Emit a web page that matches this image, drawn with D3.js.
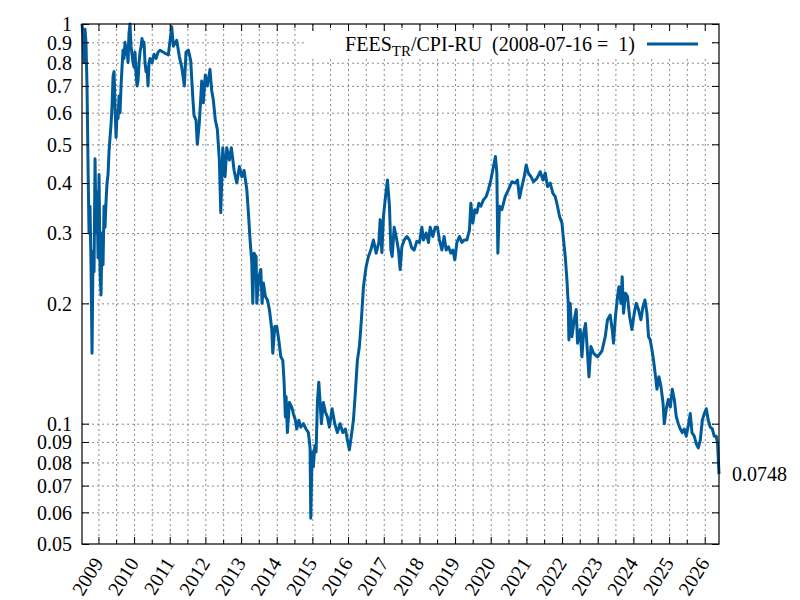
<!DOCTYPE html>
<html>
<head>
<meta charset="utf-8">
<script src="https://cdn.jsdelivr.net/npm/d3@7"></script>
<style>
  body { margin: 0; background: #fff; }
  .grid line { stroke: #8a8a8a; stroke-dasharray: 2,3; }
  .grid path { display: none; }
  .lbl { font-family: 'Liberation Serif', 'Times New Roman', serif; font-size: 20px; fill: #000; }
</style>
</head>
<body>
<div id="chart"></div>
<script>
// decimal years
var years = [
  2008.540, 2008.568, 2008.596, 2008.624, 2008.652, 2008.680, 2008.708, 2008.736, 2008.764, 2008.792,
  2008.821, 2008.849, 2008.877, 2008.905, 2008.933, 2008.961, 2008.989, 2009.017, 2009.045, 2009.073,
  2009.101, 2009.129, 2009.157, 2009.185, 2009.213, 2009.241, 2009.269, 2009.297, 2009.325, 2009.353,
  2009.381, 2009.410, 2009.438, 2009.466, 2009.494, 2009.522, 2009.550, 2009.578, 2009.606, 2009.634,
  2009.662, 2009.690, 2009.718, 2009.746, 2009.774, 2009.802, 2009.830, 2009.858, 2009.886, 2009.914,
  2009.942, 2009.971, 2009.999, 2010.027, 2010.055, 2010.083, 2010.111, 2010.139, 2010.167, 2010.195,
  2010.223, 2010.251, 2010.279, 2010.307, 2010.335, 2010.363, 2010.391, 2010.419, 2010.447, 2010.504,
  2010.560, 2010.616, 2010.672, 2010.728, 2010.868, 2010.961, 2011.056, 2011.101, 2011.196, 2011.269,
  2011.337, 2011.410, 2011.457, 2011.522, 2011.589, 2011.645, 2011.682, 2011.738, 2011.774, 2011.830,
  2011.898, 2011.943, 2011.999, 2012.055, 2012.130, 2012.178, 2012.223, 2012.279, 2012.335, 2012.391,
  2012.431, 2012.487, 2012.551, 2012.599, 2012.672, 2012.728, 2012.804, 2012.879, 2012.952, 2013.020,
  2013.084, 2013.160, 2013.205, 2013.252, 2013.300, 2013.328, 2013.365, 2013.421, 2013.440, 2013.496,
  2013.553, 2013.589, 2013.626, 2013.682, 2013.738, 2013.794, 2013.861, 2013.889, 2013.945, 2014.001,
  2014.057, 2014.114, 2014.170, 2014.206, 2014.243, 2014.262, 2014.299, 2014.355, 2014.422, 2014.467,
  2014.523, 2014.562, 2014.619, 2014.675, 2014.748, 2014.823, 2014.888, 2014.935, 2014.955, 2014.992,
  2015.028, 2015.068, 2015.104, 2015.140, 2015.180, 2015.216, 2015.252, 2015.308, 2015.365, 2015.421,
  2015.477, 2015.553, 2015.628, 2015.701, 2015.777, 2015.853, 2015.926, 2015.982, 2016.038, 2016.105,
  2016.150, 2016.198, 2016.262, 2016.318, 2016.374, 2016.431, 2016.506, 2016.571, 2016.638, 2016.711,
  2016.787, 2016.862, 2016.899, 2016.947, 2016.992, 2017.039, 2017.104, 2017.160, 2017.199, 2017.236,
  2017.292, 2017.348, 2017.412, 2017.460, 2017.508, 2017.572, 2017.648, 2017.721, 2017.788, 2017.853,
  2017.929, 2018.001, 2018.069, 2018.114, 2018.189, 2018.254, 2018.301, 2018.377, 2018.442, 2018.506,
  2018.562, 2018.630, 2018.694, 2018.750, 2018.815, 2018.882, 2018.938, 2018.994, 2019.051, 2019.123,
  2019.191, 2019.255, 2019.331, 2019.404, 2019.443, 2019.499, 2019.555, 2019.611, 2019.668, 2019.723,
  2019.796, 2019.872, 2019.936, 2020.004, 2020.060, 2020.133, 2020.172, 2020.200, 2020.245, 2020.313,
  2020.405, 2020.498, 2020.593, 2020.686, 2020.750, 2020.806, 2020.873, 2020.938, 2020.994, 2021.050,
  2021.126, 2021.199, 2021.294, 2021.387, 2021.463, 2021.527, 2021.592, 2021.667, 2021.743, 2021.808,
  2021.872, 2021.929, 2021.996, 2022.041, 2022.089, 2022.136, 2022.172, 2022.192, 2022.228, 2022.276,
  2022.341, 2022.397, 2022.433, 2022.509, 2022.557, 2022.602, 2022.658, 2022.714, 2022.754, 2022.810,
  2022.883, 2022.994, 2023.118, 2023.210, 2023.275, 2023.350, 2023.406, 2023.443, 2023.499, 2023.556,
  2023.595, 2023.651, 2023.687, 2023.724, 2023.780, 2023.836, 2023.892, 2023.959, 2024.024, 2024.080,
  2024.144, 2024.211, 2024.268, 2024.324, 2024.380, 2024.425, 2024.472, 2024.520, 2024.565, 2024.621,
  2024.660, 2024.716, 2024.772, 2024.829, 2024.865, 2024.921, 2024.977, 2025.034, 2025.090, 2025.146,
  2025.202, 2025.258, 2025.314, 2025.370, 2025.426, 2025.482, 2025.547, 2025.594, 2025.642, 2025.707,
  2025.763, 2025.819, 2025.875, 2025.931, 2025.987, 2026.043, 2026.099, 2026.155, 2026.212, 2026.268,
  2026.324, 2026.360, 2026.400
];

// FEES_TR / CPI-RU, 2008-07-16 = 1
var values = [
  1.0, 0.93, 0.8, 0.97, 0.9, 0.7, 0.45, 0.3, 0.35, 0.25,
  0.15, 0.27, 0.24, 0.46, 0.3, 0.38, 0.26, 0.42, 0.24, 0.21,
  0.3, 0.25, 0.35, 0.31, 0.36, 0.4, 0.42, 0.48, 0.52, 0.56,
  0.62, 0.74, 0.76, 0.62, 0.52, 0.6, 0.58, 0.66, 0.6, 0.7,
  0.78, 0.86, 0.82, 0.9, 0.84, 0.88, 0.8, 0.95, 1.0, 0.88,
  0.84, 0.8, 0.78, 0.85, 0.75, 0.7, 0.72, 0.8, 0.85, 0.88,
  0.92, 0.88, 0.9, 0.8, 0.76, 0.78, 0.7, 0.8, 0.82, 0.8,
  0.84, 0.82, 0.85, 0.86, 0.845, 0.837, 0.985, 0.88, 0.91, 0.83,
  0.78, 0.70, 0.85, 0.86, 0.81, 0.66, 0.59, 0.575, 0.50, 0.565,
  0.72, 0.635, 0.745, 0.70, 0.77, 0.68, 0.645, 0.575, 0.545, 0.457,
  0.337, 0.49, 0.415, 0.49, 0.457, 0.49, 0.43, 0.40, 0.44, 0.415,
  0.43, 0.385, 0.337, 0.288, 0.253, 0.20, 0.267, 0.262, 0.20, 0.233,
  0.243, 0.20, 0.225, 0.208, 0.204, 0.193, 0.172, 0.15, 0.175, 0.175,
  0.162, 0.147, 0.144, 0.127, 0.104, 0.117, 0.095, 0.113, 0.11, 0.106,
  0.102, 0.097, 0.102, 0.098, 0.1, 0.097, 0.095, 0.087, 0.058, 0.085,
  0.078, 0.088, 0.085, 0.113, 0.127, 0.113, 0.10, 0.113, 0.107, 0.104,
  0.098, 0.109, 0.10, 0.095, 0.10, 0.095, 0.097, 0.091, 0.086, 0.095,
  0.102, 0.117, 0.144, 0.156, 0.182, 0.22, 0.247, 0.262, 0.272, 0.288,
  0.267, 0.284, 0.324, 0.268, 0.33, 0.363, 0.407, 0.35, 0.272, 0.262,
  0.31, 0.294, 0.272, 0.243, 0.277, 0.288, 0.294, 0.288, 0.275, 0.272,
  0.286, 0.284, 0.31, 0.288, 0.30, 0.284, 0.31, 0.294, 0.31, 0.31,
  0.288, 0.272, 0.294, 0.272, 0.277, 0.267, 0.272, 0.257, 0.284, 0.294,
  0.284, 0.288, 0.288, 0.305, 0.356, 0.318, 0.343, 0.337, 0.356, 0.35,
  0.363, 0.37, 0.385, 0.407, 0.432, 0.466, 0.424, 0.267, 0.35, 0.343,
  0.37, 0.385, 0.403, 0.40, 0.407, 0.367, 0.392, 0.415, 0.444, 0.424,
  0.415, 0.403, 0.411, 0.427, 0.407, 0.424, 0.392, 0.40, 0.377, 0.37,
  0.35, 0.33, 0.318, 0.288, 0.262, 0.229, 0.20, 0.162, 0.20, 0.165,
  0.182, 0.193, 0.159, 0.172, 0.147, 0.168, 0.178, 0.15, 0.131, 0.156,
  0.15, 0.147, 0.152, 0.165, 0.182, 0.187, 0.172, 0.159, 0.186, 0.208,
  0.22, 0.20, 0.233, 0.189, 0.212, 0.208, 0.186, 0.172, 0.189, 0.20,
  0.193, 0.182, 0.196, 0.204, 0.189, 0.165, 0.162, 0.153, 0.144, 0.131,
  0.122, 0.131, 0.124, 0.113, 0.10, 0.109, 0.115, 0.11, 0.122, 0.115,
  0.104, 0.10, 0.097, 0.095, 0.097, 0.093, 0.10, 0.106, 0.095, 0.093,
  0.089, 0.087, 0.091, 0.102, 0.106, 0.109, 0.102, 0.098, 0.097, 0.093,
  0.093, 0.089, 0.0748
];

var yTicks = [1, 0.9, 0.8, 0.7, 0.6, 0.5, 0.4, 0.3, 0.2, 0.1, 0.09, 0.08, 0.07, 0.06, 0.05];
var lastLabel = "0.0748";
var legendMain = "FEES", legendSub = "TR", legendRest = "/CPI-RU  (2008-07-16 =  1)";

var svgWidth = 800, svgHeight = 600;
var margin = { top: 24, right: 81, bottom: 56, left: 82 };
var width = svgWidth - margin.left - margin.right;
var height = svgHeight - margin.top - margin.bottom;
var lineColor = "#005b9a";

function toDate(t) {
  var yr = Math.floor(t);
  var s = Date.UTC(yr, 0, 1), e = Date.UTC(yr + 1, 0, 1);
  return new Date(s + (t - yr) * (e - s));
}

var data = years.map(function(t, i) { return { date: toDate(t), v: values[i] }; });

var svg = d3.select("#chart").append("svg")
  .attr("width", svgWidth)
  .attr("height", svgHeight);

var g = svg.append("g")
  .attr("transform", `translate(${margin.left}, ${margin.top})`);

var x = d3.scaleUtc()
  .domain([data[0].date, data[data.length - 1].date])
  .range([0, width]);

var y = d3.scaleLog()
  .domain([0.05, 1])
  .range([height, 0]);

var yearTicks = d3.utcYear.range(d3.utcYear.ceil(x.domain()[0]), x.domain()[1]);
var halfTicks = d3.utcMonth.every(6).range(x.domain()[0], x.domain()[1])
  .filter(function(d) { return d.getUTCMonth() === 6; });
var allX = yearTicks.concat(halfTicks);

// grid
g.append("g").attr("class", "grid")
  .call(d3.axisBottom(x).tickValues(allX).tickSize(height).tickFormat(""));
g.append("g").attr("class", "grid")
  .call(d3.axisLeft(y).tickValues(yTicks.filter(function(v) { return v < 1 && v > 0.05; }))
    .tickSize(-width).tickFormat(""));

// legend box hides grid behind it
g.append("rect")
  .attr("x", 305 - margin.left).attr("y", 30 - margin.top)
  .attr("width", 712 - 305).attr("height", 28)
  .attr("fill", "#fff");

// series
var line = d3.line()
  .x(function(d) { return x(d.date); })
  .y(function(d) { return y(d.v); });

g.append("path")
  .datum(data)
  .attr("fill", "none")
  .attr("stroke", lineColor)
  .attr("stroke-width", 3)
  .attr("stroke-linejoin", "round")
  .attr("d", line);

// frame
g.append("rect")
  .attr("width", width).attr("height", height)
  .attr("fill", "none").attr("stroke", "#000").attr("stroke-width", 1.2);

function strip(sel) { sel.select(".domain").remove(); sel.selectAll("text").remove(); }

// ticks on all four sides, pointing inward
g.append("g").attr("transform", `translate(0, ${height})`)
  .call(d3.axisBottom(x).tickValues(halfTicks).tickSize(-4)).call(strip);
g.append("g").call(d3.axisTop(x).tickValues(halfTicks).tickSize(-4)).call(strip);
g.append("g").call(d3.axisTop(x).tickValues(yearTicks).tickSize(-7)).call(strip);
g.append("g").attr("transform", `translate(${width}, 0)`)
  .call(d3.axisRight(y).tickValues(yTicks).tickSize(-7)).call(strip);

var xAxis = g.append("g")
  .attr("transform", `translate(0, ${height})`)
  .call(d3.axisBottom(x).tickValues(yearTicks).tickSize(-7).tickPadding(0)
    .tickFormat(d3.utcFormat("%Y")));
xAxis.attr("font-family", null).attr("font-size", null);
xAxis.select(".domain").remove();
xAxis.selectAll("line").attr("stroke", "#000");
xAxis.selectAll("text")
  .attr("class", "lbl")
  .attr("text-anchor", "end")
  .attr("y", 0).attr("dy", 0)
  .attr("transform", "translate(5, 19) rotate(-58)");

var yAxis = g.append("g")
  .call(d3.axisLeft(y).tickValues(yTicks).tickSize(-7).tickPadding(10)
    .tickFormat(function(d) { return String(d); }));
yAxis.attr("font-family", null).attr("font-size", null);
yAxis.select(".domain").remove();
yAxis.selectAll("text").attr("class", "lbl").attr("dy", "0.34em");

// end value label
var last = data[data.length - 1];
g.append("text")
  .attr("class", "lbl")
  .attr("x", width + 13)
  .attr("y", y(last.v))
  .attr("dy", "0.35em")
  .text(lastLabel);

// legend
var leg = g.append("text")
  .attr("class", "lbl")
  .attr("x", 635 - margin.left)
  .attr("y", 51 - margin.top)
  .attr("text-anchor", "end")
  .attr("xml:space", "preserve");
leg.append("tspan").text(legendMain);
leg.append("tspan").attr("dy", 5).style("font-size", "15px").text(legendSub);
leg.append("tspan").attr("dy", -5).text(legendRest);

g.append("line")
  .attr("x1", 647 - margin.left).attr("x2", 698 - margin.left)
  .attr("y1", 44 - margin.top).attr("y2", 44 - margin.top)
  .attr("stroke", lineColor).attr("stroke-width", 3);
</script>
</body>
</html>
